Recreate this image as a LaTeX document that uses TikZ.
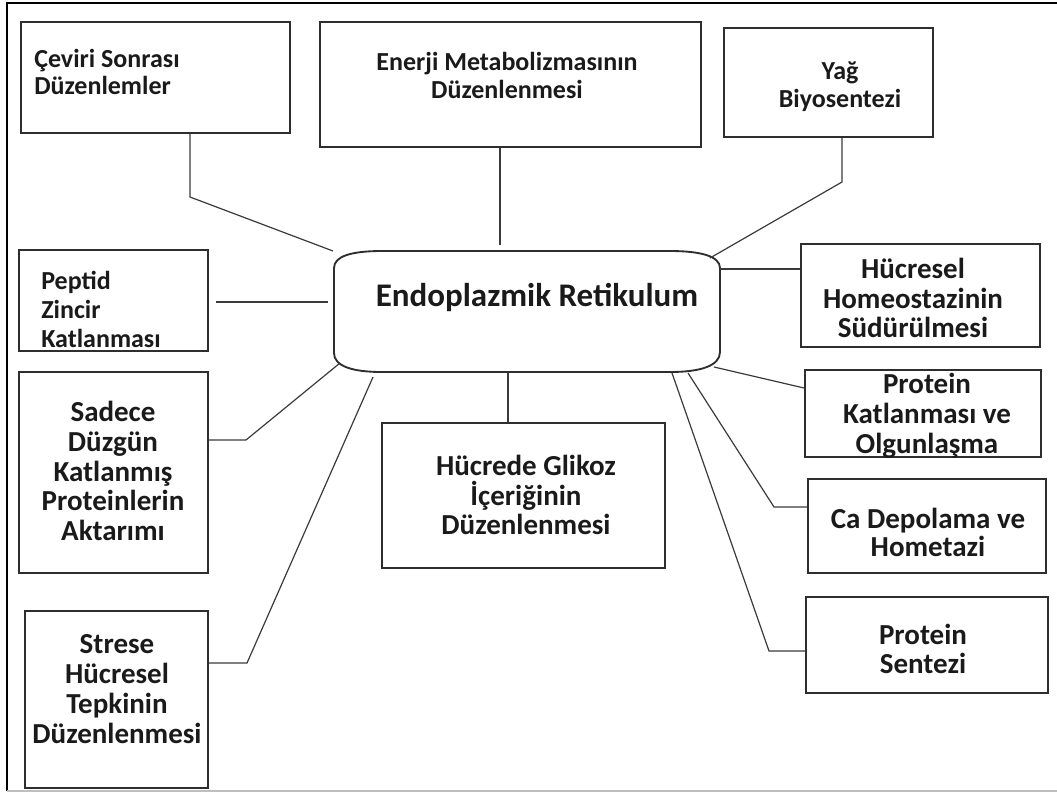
\documentclass[tikz,border=0pt]{standalone}
\usepackage{fontspec}
\setmainfont{Carlito}
\usetikzlibrary{fit,calc}
\definecolor{boxc}{HTML}{2E2E2E}
\definecolor{linec}{HTML}{3A3A3A}
\definecolor{txt}{HTML}{1A1A1A}
\begin{document}
\begin{tikzpicture}[x=0.75pt,y=-0.75pt,
  box/.style={draw=boxc, line width=1.4pt, inner sep=0pt},
  conn/.style={draw=linec, line width=0.9pt},
  big/.style={font=\bfseries\fontsize{21.75}{22.3}\selectfont, text=txt, align=center, inner sep=0pt},
  small/.style={font=\bfseries\fontsize{19.5}{20.5}\selectfont, text=txt, align=center, inner sep=0pt},
  ertxt/.style={font=\bfseries\fontsize{24.75}{26}\selectfont, text=txt, inner sep=0pt}]
\useasboundingbox (0,0) rectangle (1057,794);
% outer frame
\draw[line width=1.2pt, draw=black] (1057,3) -- (7,3) -- (7,791);
\draw[line width=1pt, draw=black!25] (7,791) -- (1057,791);

% boxes
\node[box, fit={(21,22) (290,133)}] (ceviri) {};
\node[box, fit={(320,22) (701,147)}] (enerji) {};
\node[box, fit={(724,28) (933,137)}] (yag) {};
\node[box, fit={(19,250) (208,351)}] (peptid) {};
\node[box, fit={(19,372) (208,573)}] (sadece) {};
\node[box, fit={(25,611) (208,788)}] (strese) {};
\node[box, fit={(382,423) (665,568)}] (glikoz) {};
\node[box, fit={(801,244) (1040,347)}] (homeo) {};
\node[box, fit={(805,370) (1041,457)}] (protk) {};
\node[box, fit={(808,479) (1046,573)}] (ca) {};
\node[box, fit={(806,597) (1048,693)}] (sentez) {};

% ER shape
\node[inner sep=0pt, fit={(334,251) (720,372)}] (er) {};
\draw[box] (382,251) -- (670,251) .. controls (700,251) and (720,256) .. (720,268)
  -- (720,352) .. controls (720,366) and (700,372) .. (670,372)
  -- (382,372) .. controls (352,372) and (334,366) .. (334,353)
  -- (334,268) .. controls (334,256) and (352,251) .. (382,251) -- cycle;
\node[ertxt] (ertext) at (537,297) {Endoplazmik Retikulum};

% texts
\node[small, align=left, anchor=west] (tceviri) at (34,72) {Çeviri Sonrası\\Düzenlemler};
\node[small, font=\bfseries\fontsize{19.5}{21}\selectfont] (tenerji) at (507,75) {Enerji Metabolizmasının\\Düzenlenmesi};
\node[small, font=\bfseries\fontsize{19.5}{21}\selectfont] (tyag) at (840,87) {Yağ\\Biyosentezi};
\node[small, align=left, anchor=west, font=\bfseries\fontsize{19.5}{21.75}\selectfont] (tpeptid) at (41,309) {Peptid\\Zincir\\Katlanması};
\node[big] (tsadece) at (113,471) {Sadece\\Düzgün\\Katlanmış\\Proteinlerin\\Aktarımı};
\node[big] (tstrese) at (117,689) {Strese\\Hücresel\\Tepkinin\\Düzenlenmesi};
\node[big] (tglikoz) at (526,495) {Hücrede Glikoz\\İçeriğinin\\Düzenlenmesi};
\node[big] (thomeo) at (913,298) {Hücresel\\Homeostazinin\\Südürülmesi};
\node[big] (tprotk) at (927,416) {Protein\\Katlanması ve\\Olgunlaşma};
\node[big, font=\bfseries\fontsize{21.75}{21}\selectfont] (tca) at (928,532) {Ca Depolama ve\\Hometazi};
\node[big] (tsentez) at (923,649) {Protein\\Sentezi};

% connector points
\coordinate (c1) at (190,197);
\coordinate (er1) at (333,251);
\coordinate (e1) at (500,245);
\coordinate (y1) at (842,182);
\coordinate (er3) at (710,258);
\coordinate (p1) at (216,302);
\coordinate (er4) at (328,302);
\coordinate (s1) at (246,440);
\coordinate (er5) at (340,363);
\coordinate (t1) at (247,663);
\coordinate (er6) at (373,377);
\coordinate (er7) at (508,372);
\coordinate (er8) at (720,269);
\coordinate (er9) at (714,367);
\coordinate (pk) at (805,388);
\coordinate (er10) at (688,373);
\coordinate (ca1) at (774,507);
\coordinate (er11) at (672,373);
\coordinate (sz1) at (769,651);

% connectors
\draw[conn] (c1 |- ceviri.south) -- (c1) -- (er1);
\draw[conn] (e1 |- enerji.south) -- (e1);
\draw[conn] (y1 |- yag.south) -- (y1) -- (er3);
\draw[conn] (p1) -- (er4);
\draw[conn] (s1 -| sadece.east) -- (s1) -- (er5);
\draw[conn] (t1 -| strese.east) -- (t1) -- (er6);
\draw[conn] (er7) -- (er7 |- glikoz.north);
\draw[conn] (er8) -- (er8 -| homeo.west);
\draw[conn] (er9) -- (pk -| protk.west);
\draw[conn] (er10) -- (ca1) -- (ca1 -| ca.west);
\draw[conn] (er11) -- (sz1) -- (sz1 -| sentez.west);
\end{tikzpicture}
\end{document}
